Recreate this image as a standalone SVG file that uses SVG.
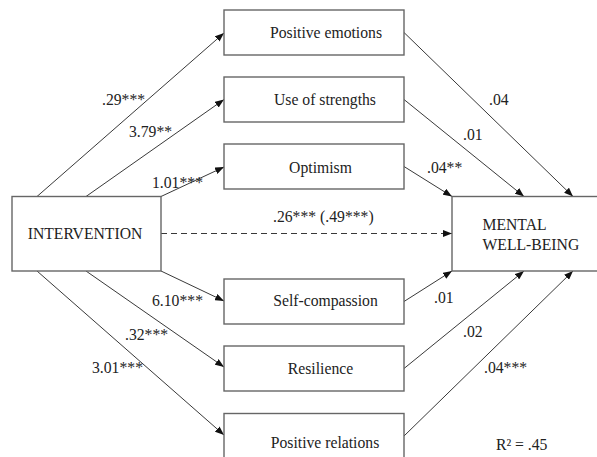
<svg xmlns="http://www.w3.org/2000/svg" width="597" height="457" viewBox="0 0 597 457">
<defs>
<marker id="arr" markerUnits="userSpaceOnUse" markerWidth="9" markerHeight="7" refX="9" refY="3.5" orient="auto">
<path d="M0,0 L9,3.5 L0,7 z" fill="#111"/>
</marker>
<style>
.box{fill:#fff;stroke:#666;stroke-width:1.4}
text{font-family:'Liberation Serif','DejaVu Serif',serif;font-size:15.7px;fill:#222}
.m{text-anchor:middle}
.e{fill:none;stroke:#222;stroke-width:0.9;marker-end:url(#arr)}
.d{stroke-dasharray:6 4}
</style>
</defs>
<rect width="597" height="457" fill="#fff"/>
<g id="connectors">
<line class="e" x1="37" y1="196.5" x2="224" y2="33"/>
<line class="e" x1="86" y1="196.5" x2="224" y2="99.5"/>
<line class="e" x1="161" y1="196.5" x2="224" y2="167"/>
<line class="e" x1="161" y1="271" x2="224" y2="301"/>
<line class="e" x1="86" y1="271" x2="224" y2="367"/>
<line class="e" x1="37" y1="271" x2="224" y2="435"/>
<line class="e" x1="404" y1="32.5" x2="573" y2="196.5"/>
<line class="e" x1="404" y1="99.5" x2="524" y2="196.5"/>
<line class="e" x1="404" y1="166.5" x2="452" y2="196.5"/>
<line class="e" x1="404" y1="301.5" x2="452" y2="271"/>
<line class="e" x1="404" y1="368.5" x2="524" y2="271"/>
<line class="e" x1="404" y1="436" x2="573" y2="271"/>
<line class="e d" x1="161" y1="233.5" x2="452" y2="233.5"/>
<text font-family="Liberation Serif, serif" x="102" y="104.5">.29***</text>
<text font-family="Liberation Serif, serif" x="129" y="137">3.79**</text>
<text font-family="Liberation Serif, serif" x="152" y="188">1.01***</text>
<text font-family="Liberation Serif, serif" x="489" y="105">.04</text>
<text font-family="Liberation Serif, serif" x="463" y="140">.01</text>
<text font-family="Liberation Serif, serif" x="427" y="173">.04**</text>
<text font-family="Liberation Serif, serif" x="273" y="222">.26*** (.49***)</text>
<text font-family="Liberation Serif, serif" x="152" y="306">6.10***</text>
<text font-family="Liberation Serif, serif" x="125" y="340">.32***</text>
<text font-family="Liberation Serif, serif" x="92" y="373">3.01***</text>
<text font-family="Liberation Serif, serif" x="434" y="303">.01</text>
<text font-family="Liberation Serif, serif" x="463" y="337">.02</text>
<text font-family="Liberation Serif, serif" x="484" y="373">.04***</text>
<text font-family="Liberation Serif, serif" x="496" y="450">R² = .45</text>
</g>
<g id="intervention">
<rect class="box" x="12" y="196.5" width="149" height="74.5"/>
<text class="m" font-family="Liberation Serif, serif" x="85" y="239">INTERVENTION</text>
</g>
<g id="wellbeing">
<rect class="box" x="452" y="196.5" width="160" height="74.5"/>
<text font-family="Liberation Serif, serif" x="482.5" y="230">MENTAL</text>
<text font-family="Liberation Serif, serif" x="482.5" y="250">WELL-BEING</text>
</g>
<g id="positive-emotions">
<rect class="box" x="224" y="10" width="180" height="45"/>
<text class="m" font-family="Liberation Serif, serif" x="326" y="37.5">Positive emotions</text>
</g>
<g id="use-of-strengths">
<rect class="box" x="224" y="77" width="180" height="45"/>
<text class="m" font-family="Liberation Serif, serif" x="325" y="105">Use of strengths</text>
</g>
<g id="optimism">
<rect class="box" x="224" y="144" width="180" height="45"/>
<text class="m" font-family="Liberation Serif, serif" x="320.5" y="173">Optimism</text>
</g>
<g id="self-compassion">
<rect class="box" x="224" y="279" width="180" height="45"/>
<text class="m" font-family="Liberation Serif, serif" x="325.5" y="306">Self-compassion</text>
</g>
<g id="resilience">
<rect class="box" x="224" y="346" width="180" height="45"/>
<text class="m" font-family="Liberation Serif, serif" x="320.5" y="373.5">Resilience</text>
</g>
<g id="positive-relations">
<rect class="box" x="224" y="413.5" width="180" height="60"/>
<text class="m" font-family="Liberation Serif, serif" x="325" y="448">Positive relations</text>
</g>
</svg>
